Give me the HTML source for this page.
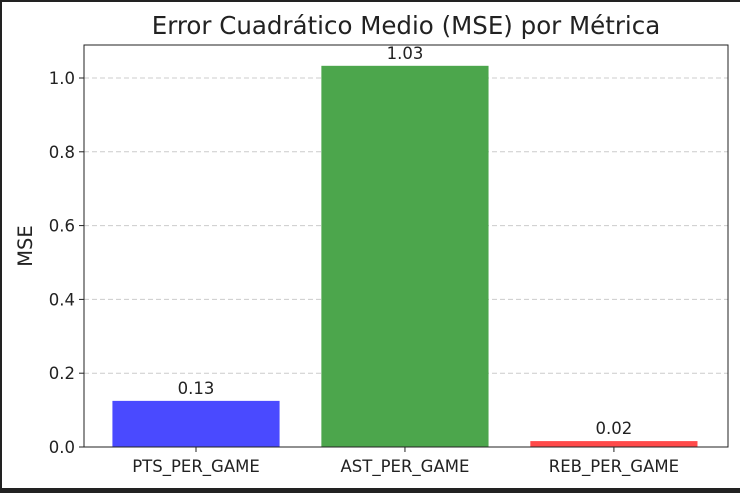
<!DOCTYPE html>
<html><head><meta charset="utf-8"><style>
html,body{margin:0;padding:0;background:#fff}
svg{display:block;font-family:"DejaVu Sans","Liberation Sans",sans-serif}
</style></head><body>
<svg id="chart" width="740" height="493" viewBox="0 0 740 493">
<rect x="0" y="0" width="740" height="493" fill="#fff"/>
<rect x="0" y="0" width="740" height="2" fill="#222"/>
<rect x="0" y="0" width="2" height="493" fill="#222"/>
<rect x="0" y="488" width="740" height="5" fill="#222"/>
<text x="406" y="34" font-size="24.5" text-anchor="middle" fill="#222">Error Cuadrático Medio (MSE) por Métrica</text>
<text x="0" y="0" font-size="19.5" text-anchor="middle" fill="#222" transform="translate(32,246) rotate(-90)">MSE</text>
<g id="grid"></g><g id="bars"></g><g id="axes"></g>
</svg>
<script>
const categories=["PTS_PER_GAME","AST_PER_GAME","REB_PER_GAME"];
const values=[0.125,1.033,0.016];
const valueLabels=["0.13","1.03","0.02"];
const colors=["#4a4aff","#4ca64c","#ff4a4a"];
const yTicks=[0,0.2,0.4,0.6,0.8,1.0];
const yTickLabels=["0.0","0.2","0.4","0.6","0.8","1.0"];
const L=84,R=728,T=45,B=447,yMax=1.0894,xMin=-0.536,xMax=2.546;
const NS="http://www.w3.org/2000/svg";
function y(v){return B-(v/yMax)*(B-T);}
function x(i){return L+(i-xMin)/(xMax-xMin)*(R-L);}
function mk(t,a,p){const e=document.createElementNS(NS,t);for(const k in a)e.setAttribute(k,a[k]);p.appendChild(e);return e;}
const grid=document.getElementById('grid'),bars=document.getElementById('bars'),axes=document.getElementById('axes');
yTicks.forEach((v,i)=>{
 if(v>0){const g=mk('line',{x1:L,x2:R,y1:y(v),y2:y(v),stroke:'#ccc','stroke-dasharray':'5,3','stroke-width':1},grid);
 
 }
 const tk=mk('line',{x1:L-5,x2:L,y1:y(v),y2:y(v),stroke:'#222'},axes);
 
 
 const t=mk('text',{x:L-9,y:y(v)+6,'font-size':16.5,'text-anchor':'end',fill:'#222'},axes);
 t.textContent=yTickLabels[i];
 
 
});
const bw=(x(1)-x(0))*0.8;
categories.forEach((c,i)=>{
 const r=mk('rect',{x:x(i)-bw/2,y:y(values[i]),width:bw,height:B-y(values[i]),fill:colors[i]},bars);
 
 
 const vl=mk('text',{x:x(i),y:y(values[i])-7,'font-size':16.5,'text-anchor':'middle',fill:'#222'},bars);
 vl.textContent=valueLabels[i];
 
 
 const tk=mk('line',{x1:x(i),x2:x(i),y1:B,y2:B+5,stroke:'#222'},axes);
 
 
 const t=mk('text',{x:x(i),y:B+25,'font-size':16.5,'text-anchor':'middle',fill:'#222'},axes);
 t.textContent=c;
 
 
});
const fr=mk('rect',{x:L,y:T,width:R-L,height:B-T,fill:'none',stroke:'#222','stroke-width':1},axes);


</script>
</body></html>
